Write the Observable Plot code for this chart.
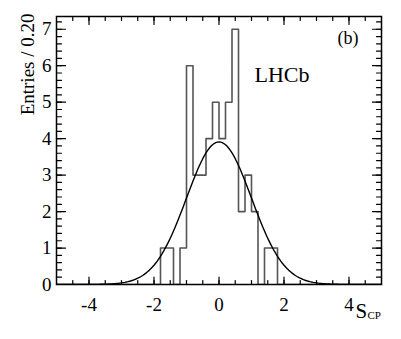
<!DOCTYPE html>
<html><head><meta charset="utf-8">
<script src="https://cdn.jsdelivr.net/npm/d3@7"></script>
<script src="https://cdn.jsdelivr.net/npm/@observablehq/plot@0.6"></script>
<style>
body{margin:0;background:#fff;}
#chart svg, #chart svg text { font-family: "Liberation Serif", "Times New Roman", Times, "DejaVu Serif", serif !important; }
</style>
</head><body><div id="chart"></div>
<script>
// Histogram: lower bin edges (width 0.20) and entries
const binLow = [-1.8,-1.6,-1.4,-1.2,-1.0,-0.8,-0.6,-0.4,-0.2,0.0,0.2,0.4,0.6,0.8,1.0,1.2,1.4,1.6];
const counts = [1,1,0,1,6,3,3,4,5,4,5,7,2,3,2,0,1,1];
const binWidth = 0.2;
const xRange = [-5, 5];
const yMax = 7.35;

// Gaussian overlay parameters
const fitEntries = 49;
const fitMean = 0;
const fitSigma = 1.0;

// Tick labels / positions
const xMajor = [-4, -2, 0, 2, 4];
const xMinor = [-4.5,-4,-3.5,-3,-2.5,-2,-1.5,-1,-0.5,0,0.5,1,1.5,2,2.5,3,3.5,4,4.5];
const yMajor = [0,1,2,3,4,5,6,7];
const yMinor = d3.range(0, 7.3, 0.2);

const yTitle = "Entries / 0.20";
const xTitleMain = "S";
const xTitleSub = "CP";
const tagText = "(b)";
const expText = "LHCb";

const histPoints = [{x: xRange[0], y: 0}]
  .concat(binLow.map((b, i) => ({x: b, y: counts[i]})))
  .concat([{x: binLow[binLow.length-1] + binWidth, y: 0}, {x: xRange[1], y: 0}]);

const norm = fitEntries * binWidth / (fitSigma * Math.sqrt(2 * Math.PI));
const curvePoints = d3.range(xRange[0], xRange[1] + 1e-9, 0.05).map(x => ({
  x, y: norm * Math.exp(-0.5 * ((x - fitMean) / fitSigma) ** 2)
}));

const font = "Liberation Serif, Times New Roman, Times, DejaVu Serif, serif";
const tickShape = {draw(context, l) { context.moveTo(0, 0); context.lineTo(0, -l); }};
const tk = (data, where, len) => {
  const o = {length: len, anchor: "start", shape: tickShape, stroke: "black", strokeWidth: 1.2};
  if (where === "bottom") return Plot.vector(data, {...o, x: d => d, frameAnchor: "bottom", rotate: 0});
  if (where === "top") return Plot.vector(data, {...o, x: d => d, frameAnchor: "top", rotate: 180});
  if (where === "left") return Plot.vector(data, {...o, y: d => d, frameAnchor: "left", rotate: 90});
  return Plot.vector(data, {...o, y: d => d, frameAnchor: "right", rotate: -90});
};

const chart = Plot.plot({
  width: 401, height: 339,
  marginLeft: 56, marginRight: 20, marginTop: 16, marginBottom: 55,
  style: {fontFamily: font, fontSize: "19px", background: "white", color: "black"},
  x: {domain: xRange, label: null, axis: null},
  y: {domain: [0, yMax], label: null, axis: null},
  marks: [
    Plot.line(histPoints, {x: "x", y: "y", curve: "step-after", stroke: "#555", strokeWidth: 1.6, clip: true}),
    Plot.line(curvePoints, {x: "x", y: "y", stroke: "black", strokeWidth: 1.4, clip: true}),
    tk(xMajor, "bottom", 7.5), tk(xMinor, "bottom", 4),
    tk(xMajor, "top", 8), tk(xMinor, "top", 4),
    tk(yMajor, "left", 9), tk(yMinor, "left", 5),
    tk(yMajor, "right", 9), tk(yMinor, "right", 5),
    Plot.text(xMajor, {x: d => d, frameAnchor: "bottom", text: d => String(d), lineAnchor: "top", dy: 13, fontSize: 19, fontFamily: font}),
    Plot.text(yMajor, {y: d => d, frameAnchor: "left", text: d => String(d), textAnchor: "end", lineAnchor: "middle", dx: -5, fontSize: 19, fontFamily: font}),
    Plot.frame({stroke: "black", strokeWidth: 1.5}),
    Plot.text([yTitle], {frameAnchor: "top-left", text: d => d, rotate: -90, textAnchor: "end", lineAnchor: "middle", dx: -29, dy: -3, fontSize: 19, fontFamily: font}),
    Plot.text([xTitleMain], {frameAnchor: "bottom-right", text: d => d, textAnchor: "start", lineAnchor: "bottom", dx: -26, dy: 33, fontSize: 21, fontFamily: font}),
    Plot.text([xTitleSub], {frameAnchor: "bottom-right", text: d => d, textAnchor: "start", lineAnchor: "bottom", dx: -14, dy: 34, fontSize: 11, fontFamily: font}),
    Plot.text([expText], {frameAnchor: "top-right", text: d => d, textAnchor: "start", lineAnchor: "bottom", dx: -127, dy: 65, fontSize: 22, fontFamily: font}),
    Plot.text([tagText], {frameAnchor: "top-right", text: d => d, textAnchor: "start", lineAnchor: "bottom", dx: -44, dy: 27, fontSize: 18, fontFamily: font})
  ]
});
document.getElementById("chart").appendChild(chart);
</script>
</body></html>
